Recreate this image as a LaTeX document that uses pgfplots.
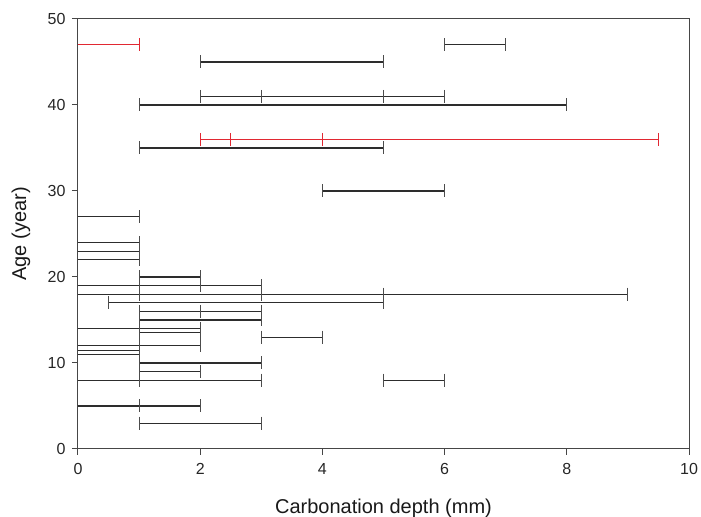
\documentclass[border=0pt]{standalone}
\usepackage{fontspec}
\setmainfont{Liberation Sans}
\usepackage{pgfplots}
\pgfplotsset{compat=1.18}
\definecolor{segblack}{RGB}{45,45,45}
\definecolor{segred}{RGB}{225,40,50}
\definecolor{axgray}{RGB}{70,70,70}

\pgfplotstableread{
x y
6 47
7 47
nan nan
2 45
5 45
nan nan
2 41
3 41
5 41
6 41
nan nan
1 40
8 40
nan nan
1 35
5 35
nan nan
4 30
6 30
nan nan
0 27
1 27
nan nan
0 24
1 24
nan nan
0 23
1 23
nan nan
0 22
1 22
nan nan
1 20
2 20
nan nan
0 19
1 19
2 19
3 19
nan nan
0 18
1 18
3 18
5 18
9 18
nan nan
0.5 17
5 17
nan nan
1 16
2 16
3 16
nan nan
1 15
3 15
nan nan
0 14
1 14
2 14
nan nan
1 13.5
2 13.5
nan nan
3 13
4 13
nan nan
0 12
1 12
2 12
nan nan
0 11.5
1 11.5
nan nan
0 11
1 11
nan nan
1 10
3 10
nan nan
1 9
2 9
nan nan
0 8
1 8
3 8
nan nan
5 8
6 8
nan nan
0 5
1 5
2 5
nan nan
1 3
3 3
}\blackdata

\pgfplotstableread{
x y
0 47
1 47
nan nan
2 36
2.5 36
4 36
9.5 36
}\reddata

\begin{document}
\begin{tikzpicture}
\begin{axis}[
  name=ax,
  scale only axis,
  width=611pt, height=430pt,
  xmin=0, xmax=10, ymin=0, ymax=50,
  xtick={0,2,...,10}, ytick={0,10,...,50},
  tick pos=left, tick align=outside, major tick length=6pt,
  axis line style={axgray, line width=1pt},
  every tick/.style={axgray, line width=1pt},
  unbounded coords=jump,
  /pgf/number format/assume math mode=true,
  ticklabel style={font=\fontsize{16}{19}\selectfont, text=black!85},
  xticklabel style={yshift=-5pt},
  yticklabel style={xshift=-3pt},
  label style={font=\fontsize{20}{24}\selectfont, text=black!90},
  xlabel={Carbonation depth (mm)},
  ylabel={Age (year)},
  xlabel style={at={(axis description cs:0.5,-0.137)}, anchor=center},
  ylabel style={at={(axis description cs:-0.0933,0.5)}, anchor=center},
  clip=false,
]
% range lines
\addplot[segblack, line width=1.1pt, mark=none] table[x=x,y=y] {\blackdata};
\addplot[segred, line width=1.1pt, mark=none] table[x=x,y=y] {\reddata};
% end and break ticks (those on the y axis are hidden by it)
\addplot[only marks, mark=|, mark size=6.5pt, restrict x to domain=0.1:10,
  mark options={segblack!85, line width=1.1pt}] table[x=x,y=y] {\blackdata};
\addplot[only marks, mark=|, mark size=6.5pt, restrict x to domain=0.1:10,
  mark options={segred, line width=1.1pt}] table[x=x,y=y] {\reddata};
\end{axis}
\pgfresetboundingbox
\path ([shift={(-78pt,-68pt)}]ax.south west) rectangle ([shift={(12pt,19pt)}]ax.north east);
\end{tikzpicture}
\end{document}
